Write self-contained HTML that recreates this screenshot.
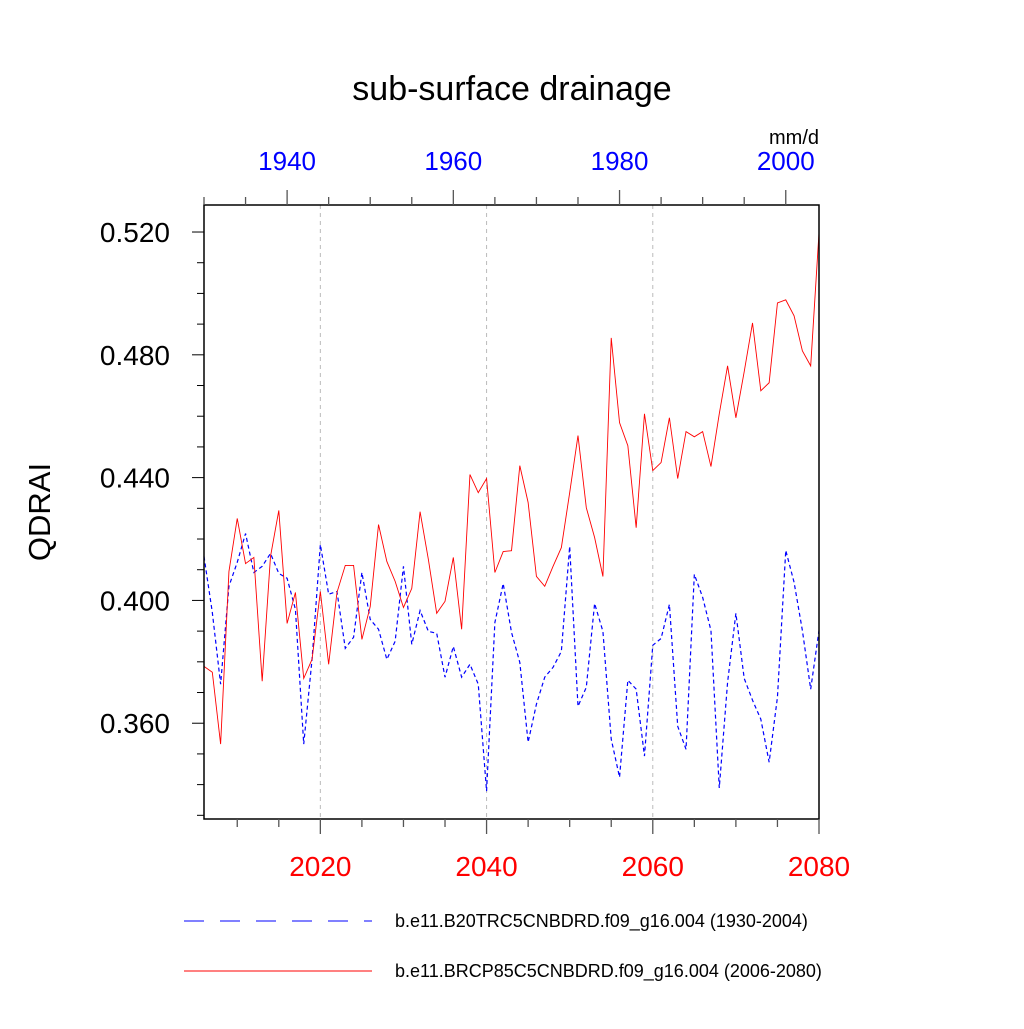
<!DOCTYPE html>
<html><head><meta charset="utf-8"><style>
html,body{margin:0;padding:0;background:#fff;}
svg text{font-family:"Liberation Sans",sans-serif;}
</style></head><body>
<svg id="chart" width="1024" height="1024" viewBox="0 0 1024 1024" xmlns="http://www.w3.org/2000/svg">
<rect width="1024" height="1024" fill="#fff"/>
<text x="512" y="100" font-size="34" text-anchor="middle">sub-surface drainage</text>
<text x="0" y="0" font-size="31" text-anchor="middle" transform="translate(50,512) rotate(-90)">QDRAI</text>
<text x="794" y="144" font-size="20" text-anchor="middle">mm/d</text>
<g id="grid"></g>
<g id="series"></g>
<g id="axes"></g>
<g>
<line x1="184" y1="921" x2="372" y2="921" stroke="#0000ff" stroke-width="1" stroke-dasharray="20,16"/>
<text x="395" y="927" font-size="18">b.e11.B20TRC5CNBDRD.f09_g16.004 (1930-2004)</text>
<line x1="184" y1="971" x2="372" y2="971" stroke="#ff0000" stroke-width="1"/>
<text x="395" y="977" font-size="18">b.e11.BRCP85C5CNBDRD.f09_g16.004 (2006-2080)</text>
</g>
</svg>
<script>
const redValues = [0.3785,0.3766,0.3532,0.4094,0.4267,0.4120,0.4140,0.3737,0.4143,0.4293,0.3925,0.4026,0.3746,0.3808,0.4029,0.3792,0.4026,0.4114,0.4114,0.3873,0.3980,0.4247,0.4127,0.4062,0.3977,
0.4039,0.4289,0.4133,0.3958,0.3997,0.4140,0.3906,0.4410,0.4351,0.4397,0.4091,0.4159,0.4162,0.4439,0.4319,0.4078,0.4046,0.4111,0.4172,0.4351,0.4537,0.4302,0.4205,0.4078,
0.4855,0.4579,0.4504,0.4237,0.4608,0.4423,0.4449,0.4595,0.4397,0.4550,0.4533,0.4550,0.4436,0.4608,0.4764,0.4595,0.4745,0.4904,0.4683,0.4709,0.4969,0.4979,0.4927,0.4813,0.4764,0.5197];
const blueValues = [0.4143,0.3961,0.3727,0.4046,0.4124,0.4218,0.4091,0.4111,0.4153,0.4088,0.4072,0.3971,0.3532,0.3808,0.4182,0.4020,0.4029,0.3844,0.3880,0.4091,0.3938,0.3906,0.3808,0.3867,0.4111,
0.3857,0.3967,0.3899,0.3893,0.3750,0.3850,0.3750,0.3792,0.3727,0.3379,0.3928,0.4055,0.3896,0.3798,0.3538,0.3662,0.3750,0.3782,0.3834,0.4176,0.3655,0.3717,0.3990,0.3899,0.3548,
0.3424,0.3740,0.3711,0.3493,0.3854,0.3876,0.3987,0.3590,0.3515,0.4085,0.4010,0.3902,0.3389,0.3733,0.3958,0.3746,0.3675,0.3613,0.3473,0.3685,0.4163,0.4059,0.3902,0.3711,0.3902];
const yTicks = [0.36,0.40,0.44,0.48,0.52];
const yTickLabels = ["0.360","0.400","0.440","0.480","0.520"];
const bottomTicks = [2020,2040,2060,2080];
const topTicks = [1940,1960,1980,2000];
const redStart = 2006, blueStart = 1930;

const L=204,R=819,T=205,B=819;
const yMin=0.3288,yMax=0.5288;
const xR = yr => L + (yr-2006)*(R-L)/74;
const xB = yr => L + (yr-1930)*(R-L)/74;
const y = v => B - (v-yMin)*(B-T)/(yMax-yMin);
const NS="http://www.w3.org/2000/svg";
function mk(tag,attrs,parent){const e=document.createElementNS(NS,tag);for(const k in attrs)e.setAttribute(k,attrs[k]);parent.appendChild(e);return e;}
const grid=document.getElementById('grid'),series=document.getElementById('series'),axes=document.getElementById('axes');

[2020,2040,2060].forEach(t=>{
  const g=mk('line',{x1:xR(t),x2:xR(t),y1:T,y2:B,stroke:'#bbb','stroke-width':1,'stroke-dasharray':'4,4'},grid);
  
  
});

const bp=blueValues.map((v,i)=>xB(blueStart+i).toFixed(2)+','+y(v).toFixed(2)).join(' ');
const bl=mk('polyline',{points:bp,fill:'none',stroke:'#0000ff','stroke-width':1.2,'stroke-dasharray':'4,3'},series);


const rp=redValues.map((v,i)=>xR(redStart+i).toFixed(2)+','+y(v).toFixed(2)).join(' ');
const rl=mk('polyline',{points:rp,fill:'none',stroke:'#ff0000','stroke-width':0.9},series);



const fr=mk('rect',{x:L,y:T,width:R-L,height:B-T,fill:'none',stroke:'#000','stroke-width':1.5},axes);



for(let v=0.33;v<=0.5201;v+=0.01){
  const major=yTicks.some(t=>Math.abs(t-v)<1e-6);
  const tk=mk('line',{x1:L,x2:L-(major?12:7),y1:y(v),y2:y(v),stroke:'#000','stroke-width':1},axes);
  
  
}
yTicks.forEach((t,i)=>{
  const tx=mk('text',{x:170,y:y(t)+10,'font-size':28,'text-anchor':'end'},axes);
  tx.textContent=yTickLabels[i];
  
  
});
for(let yr=2010;yr<=2080;yr+=5){
  const major=bottomTicks.includes(yr);
  const tk=mk('line',{x1:xR(yr),x2:xR(yr),y1:B,y2:B+(major?15:8),stroke:'#555','stroke-width':1.3},axes);
  
  
}
bottomTicks.forEach(t=>{
  const tx=mk('text',{x:xR(t),y:876,'font-size':28,'text-anchor':'middle',fill:'#ff0000'},axes);
  tx.textContent=t;
  
  
});
for(let yr=1930;yr<=2000;yr+=5){
  const major=topTicks.includes(yr);
  const tk=mk('line',{x1:xB(yr),x2:xB(yr),y1:T,y2:T-(major?15:8),stroke:'#555','stroke-width':1.3},axes);
  
  
}
topTicks.forEach(t=>{
  const tx=mk('text',{x:xB(t),y:170,'font-size':26,'text-anchor':'middle',fill:'#0000ff'},axes);
  tx.textContent=t;
  
  
});
</script>
</body></html>
